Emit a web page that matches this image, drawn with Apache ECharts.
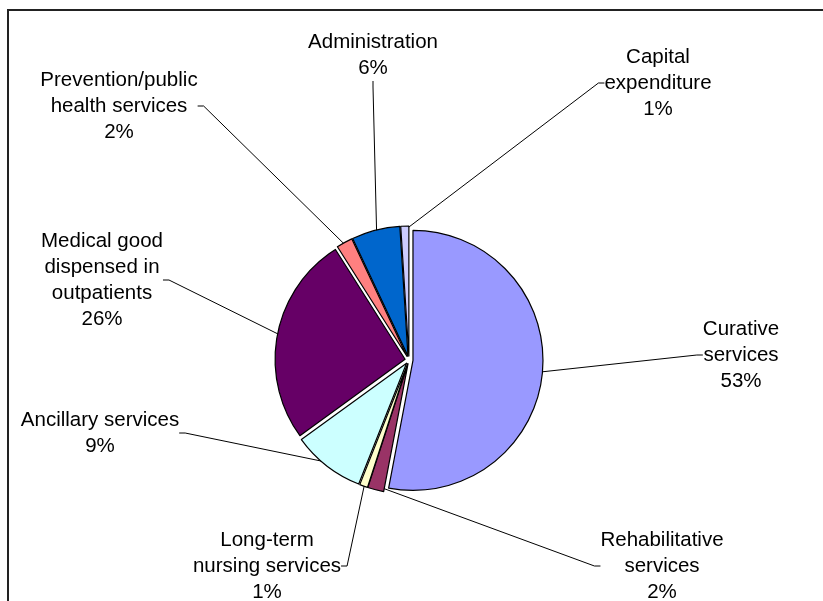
<!DOCTYPE html>
<html>
<head>
<meta charset="utf-8">
<script src="https://cdn.jsdelivr.net/npm/echarts@6/dist/echarts.min.js"></script>
<style>
  html, body { margin: 0; padding: 0; background: #fff; }
  #chart { width: 823px; height: 601px; }
</style>
</head>
<body>
<div id="chart"></div>
<script>
// Health expenditure by function, share of total (%)
const categories = [
  'Curative\nservices',
  'Rehabilitative\nservices',
  'Long-term\nnursing services',
  'Ancillary services',
  'Medical good\ndispensed in\noutpatients',
  'Prevention/public\nhealth services',
  'Administration',
  'Capital\nexpenditure'
];
const shares = [53, 2, 1, 9, 26, 2, 6, 1];
const sliceColors = ['#9999FF', '#993366', '#FFFFCC', '#CCFFFF', '#660066', '#FF8080', '#0066CC', '#CCCCFF'];

// Where each label block sits (centre of the text block)
const labelSpots = [[741, 355], [662, 566], [267, 566], [100, 433], [102, 280], [119, 106], [373, 55], [658, 83]];

const chart = echarts.init(document.getElementById('chart'), null, { renderer: 'canvas' });

const pieCenter = [409, 360];
const pieRadius = 130;

chart.setOption({
  backgroundColor: '#ffffff',
  animation: false,
  graphic: [{
    type: 'rect',
    shape: { x: 8, y: 10, width: 900, height: 700 },
    style: { fill: 'none', stroke: '#222', lineWidth: 2 },
    silent: true
  }],
  series: [
    {
      // exploded slices
      type: 'pie',
      center: pieCenter,
      radius: pieRadius,
      startAngle: 90,
      clockwise: true,
      selectedMode: 'multiple',
      selectedOffset: 4,
      emphasis: { disabled: true },
      itemStyle: { borderColor: '#000', borderWidth: 1.2 },
      label: { show: false },
      labelLine: { show: false },
      data: categories.map((name, i) => ({
        name: name,
        value: shares[i],
        selected: true,
        itemStyle: { color: sliceColors[i] }
      })),
      z: 2
    },
    {
      // category labels with leader lines
      type: 'pie',
      center: pieCenter,
      radius: pieRadius,
      startAngle: 90,
      clockwise: true,
      selectedMode: false,
      avoidLabelOverlap: false,
      emphasis: { disabled: true },
      itemStyle: { color: 'rgba(0,0,0,0)', borderWidth: 0 },
      label: {
        show: true,
        color: '#000',
        fontFamily: 'Liberation Sans, Arial, sans-serif',
        fontSize: 20.5,
        lineHeight: 26,
        align: 'center',
        formatter: p => p.name + '\n' + p.value + '%'
      },
      labelLine: {
        show: true,
        length: 10,
        length2: 6,
        lineStyle: { color: '#000', width: 1 }
      },
      labelLayout: params => {
        const spot = labelSpots[params.dataIndex];
        return { x: spot[0], y: spot[1], align: 'center', verticalAlign: 'middle' };
      },
      data: categories.map((name, i) => ({ name: name, value: shares[i] })),
      z: 1
    }
  ]
});
</script>
</body>
</html>
